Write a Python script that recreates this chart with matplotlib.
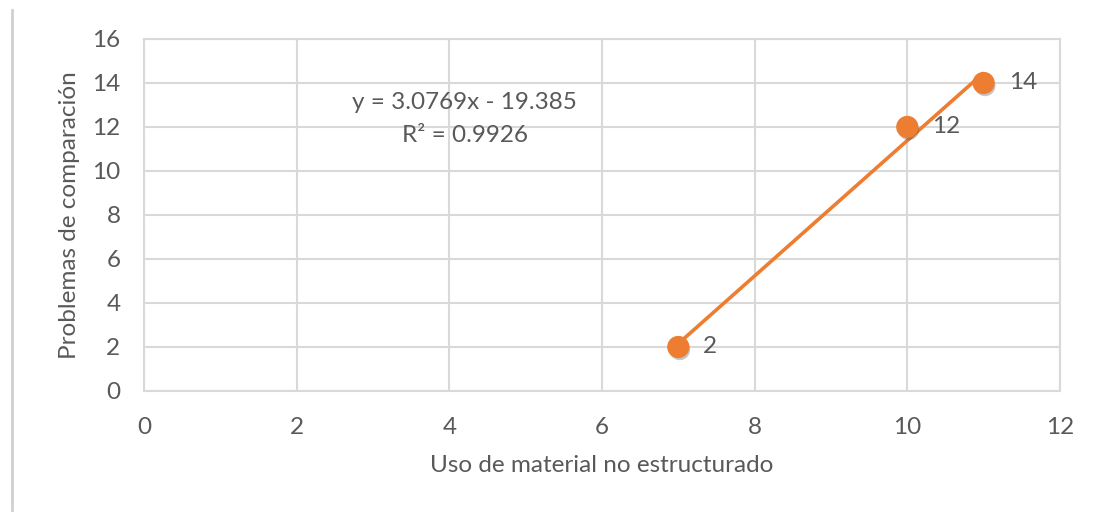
import matplotlib
matplotlib.use("Agg")
from matplotlib import pyplot as plt
from matplotlib import patheffects as pe
from matplotlib.lines import Line2D

# datos de la dispersion
uso_material = [7, 10, 11]
problemas = [2, 12, 14]
etiquetas = ["2", "12", "14"]
pendiente = 3.0769
intercepto = -19.385
r2 = 0.9926

naranja = "#ED7D31"
gris_texto = "#595959"
gris_rejilla = "#D9D9D9"

plt.rcParams["font.family"] = ["Lato", "DejaVu Sans"]

fig = plt.figure(figsize=(10.95, 5.15), dpi=100)
ax = fig.add_axes([0.1315, 0.2408, 0.8365, 0.6835])

# linea de tendencia entre el primer y el ultimo punto
x_tend = [min(uso_material), max(uso_material)]
y_tend = [pendiente * x + intercepto for x in x_tend]
ax.plot(x_tend, y_tend, color=naranja, lw=2.6, zorder=3, solid_capstyle="butt")

sombra = [pe.SimplePatchShadow(offset=(1, -2), shadow_rgbFace="#444444", alpha=0.3), pe.Normal()]
ax.plot(uso_material, problemas, "o", ms=15, color=naranja, mec=naranja,
        zorder=4, path_effects=sombra)

for x, y, t in zip(uso_material, problemas, etiquetas):
    ax.annotate(t, (x, y), xytext=(18, 0), textcoords="offset points",
                ha="left", va="center", fontsize=17.5, color=gris_texto)

ax.text(4.2, 13.1, "y = {}x - {}".format(pendiente, -intercepto), ha="center", va="center",
        fontsize=17.5, color=gris_texto)
ax.text(4.2, 11.6, "R² = {}".format(r2), ha="center", va="center",
        fontsize=17.5, color=gris_texto)

ax.set_xlim(0, 12)
ax.set_ylim(0, 16)
ax.set_xticks(range(0, 13, 2))
ax.set_yticks(range(0, 17, 2))
ax.grid(True, color=gris_rejilla, lw=1.5)
ax.set_axisbelow(True)
for s in ax.spines.values():
    s.set_color(gris_rejilla)
    s.set_linewidth(1.5)
ax.tick_params(length=0, labelsize=17.5, labelcolor=gris_texto)
ax.tick_params(axis="x", pad=19)
ax.tick_params(axis="y", pad=17)

ax.set_xlabel("Uso de material no estructurado", fontsize=17.5, color=gris_texto, labelpad=12)
ax.set_ylabel("Problemas de comparación", fontsize=17.5, color=gris_texto, labelpad=9)

# borde izquierdo del marco
fig.add_artist(Line2D([0.011, 0.011], [0.01, 0.98], color="#D0D0D0", lw=2))

plt.savefig("out.png", dpi=100)
